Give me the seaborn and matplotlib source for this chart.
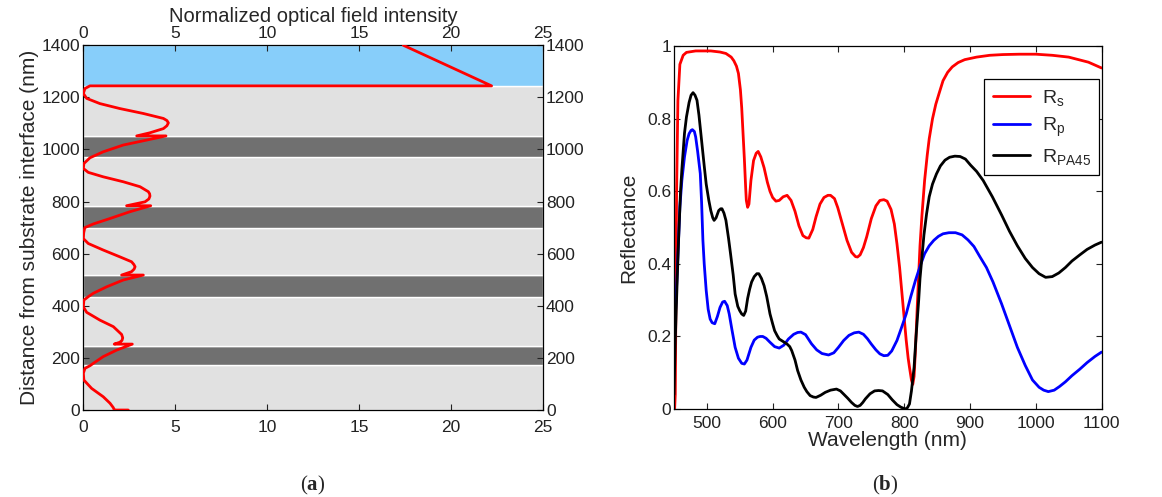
import seaborn as sns
import matplotlib
matplotlib.use('Agg')
import matplotlib.pyplot as plt
import pandas as pd
import numpy as np

# ---- panel (a): layer stack and field intensity ----
layer_bottoms = [0, 173, 247, 435, 518, 700, 784, 972, 1052, 1244]
layer_tops = [173, 247, 435, 518, 700, 784, 972, 1052, 1244, 1400]
layer_kind = ['light', 'dark', 'light', 'dark', 'light', 'dark', 'light', 'dark', 'light', 'air']

field_intensity = [2.46, 1.70, 1.68, 1.65, 1.47, 1.10, 0.47, 0.05, 0.02, 0.11, 0.38, 0.56,
                   1.10, 1.83, 2.68, 1.70, 2.00, 2.12, 2.16, 2.10, 1.65, 0.92, 0.20, 0.02, 0.05,
                   0.29, 0.56, 1.29, 2.19, 3.28, 2.10, 2.64, 2.78, 2.83, 2.76, 2.64, 2.00, 1.10, 0.29,
                   0.02, 0.04, 0.10, 0.56, 1.47, 2.55, 3.68, 2.37, 3.37, 3.58, 3.64, 3.62, 3.55, 3.10,
                   2.19, 1.10, 0.29, 0.02, 0.05, 0.38, 1.10, 2.19, 3.46, 4.51, 2.92, 3.64,
                   4.37, 4.56, 4.64, 4.56, 4.37, 3.28, 2.00, 0.92, 0.20, 0.02, 0.11, 0.38, 22.2, 17.4]
field_depth = [0, 0, 4, 9, 26, 51, 83, 115, 141, 160, 170, 179,
               205, 230, 253, 253, 260, 267, 277, 290, 320, 345, 375, 396, 422,
               435, 448, 473, 499, 518, 518, 531, 541, 550, 559, 569, 588, 614, 639,
               658, 680, 700, 714, 735, 761, 784, 784, 799, 810, 821, 830, 838, 857,
               876, 895, 912, 927, 946, 968, 991, 1017, 1036, 1052, 1052, 1064,
               1080, 1091, 1102, 1111, 1119, 1138, 1157, 1176, 1196, 1215, 1234, 1244, 1244, 1400]
intensity_ticks = [0, 5, 10, 15, 20, 25]

# ---- panel (b): reflectance spectra ----
rs_wl = [451, 452, 453, 454, 456, 459, 464, 469, 483, 506, 520, 529, 537, 541, 545, 548,
         551, 553, 555, 557, 559, 560, 562, 564, 567, 571, 575, 578, 582, 587, 592, 596,
         600, 605, 610, 616, 622, 628, 634, 640, 646, 651, 655, 661, 666, 672, 678, 684,
         688, 694, 699, 706, 713, 720, 726, 729, 733, 738, 743, 750, 757, 763, 769, 774,
         780, 785, 789, 793, 796, 800, 803, 806, 808, 811, 813, 815, 817, 820, 822, 824,
         827, 831, 835, 838, 843, 848, 853, 859, 866, 873, 882, 892, 910, 930, 950, 975,
         1000, 1025, 1050, 1065, 1080, 1090, 1100]
rs_val = [0.0, 0.04, 0.30, 0.60, 0.85, 0.95, 0.975, 0.983, 0.987, 0.987, 0.984, 0.98, 0.97, 0.96, 0.945, 0.925,
          0.88, 0.83, 0.76, 0.69, 0.61, 0.575, 0.556, 0.565, 0.63, 0.685, 0.705, 0.71, 0.695, 0.665, 0.625, 0.60,
          0.583, 0.573, 0.575, 0.585, 0.589, 0.575, 0.545, 0.505, 0.478, 0.472, 0.471, 0.495, 0.53, 0.565, 0.583, 0.589,
          0.589, 0.58, 0.555, 0.51, 0.465, 0.432, 0.42, 0.419, 0.425, 0.445, 0.475, 0.525, 0.56, 0.575, 0.577, 0.573,
          0.55, 0.51, 0.455, 0.39, 0.33, 0.25, 0.19, 0.14, 0.115, 0.08, 0.068, 0.09, 0.16, 0.29, 0.37, 0.45,
          0.535, 0.63, 0.70, 0.745, 0.80, 0.84, 0.87, 0.905, 0.928, 0.943, 0.955, 0.963, 0.97, 0.975, 0.977, 0.978,
          0.978, 0.975, 0.97, 0.963, 0.956, 0.948, 0.94]

rp_wl = [450, 452, 455, 459, 462, 466, 470, 473, 476, 478, 481, 483, 486, 490, 492, 494,
         496, 499, 502, 505, 508, 512, 516, 520, 524, 527, 531, 534, 538, 543, 548, 553,
         557, 561, 567, 572, 577, 581, 585, 590, 596, 603, 610, 617, 624, 632, 638, 643,
         650, 659, 667, 675, 685, 693, 700, 708, 716, 724, 731, 738, 744, 750, 757, 763,
         769, 775, 781, 789, 796, 803, 810, 817, 824, 831, 838, 845, 852, 859, 868, 878,
         888, 897, 906, 915, 925, 935, 948, 960, 972, 984, 995, 1005, 1012, 1019, 1028, 1036,
         1045, 1055, 1067, 1078, 1090, 1100]
rp_val = [0.143, 0.25, 0.38, 0.557, 0.63, 0.695, 0.74, 0.759, 0.768, 0.77, 0.765, 0.75, 0.71, 0.649, 0.57, 0.465,
          0.40, 0.327, 0.275, 0.248, 0.238, 0.235, 0.255, 0.28, 0.295, 0.297, 0.285, 0.262, 0.22, 0.17, 0.14, 0.126,
          0.124, 0.135, 0.17, 0.19, 0.198, 0.20, 0.20, 0.195, 0.184, 0.172, 0.168, 0.176, 0.193, 0.206, 0.211, 0.212,
          0.205, 0.18, 0.163, 0.153, 0.149, 0.155, 0.17, 0.189, 0.203, 0.21, 0.212, 0.206, 0.194, 0.179, 0.163, 0.152,
          0.147, 0.148, 0.16, 0.189, 0.225, 0.262, 0.31, 0.354, 0.393, 0.428, 0.45, 0.465, 0.476, 0.483, 0.486, 0.486,
          0.48, 0.466, 0.448, 0.42, 0.39, 0.35, 0.29, 0.23, 0.17, 0.12, 0.08, 0.06, 0.052, 0.048, 0.052, 0.062,
          0.075, 0.092, 0.11, 0.128, 0.145, 0.157]

rpa_wl = [450, 452, 455, 457, 460, 462, 466, 469, 473, 476, 479, 482, 485, 488, 492, 496,
          499, 503, 506, 509, 511, 514, 518, 521, 523, 526, 529, 533, 536, 540, 543, 547,
          550, 553, 556, 559, 562, 565, 568, 572, 576, 579, 583, 587, 591, 596, 600, 603,
          607, 610, 616, 622, 626, 629, 634, 638, 643, 648, 652, 657, 662, 666, 673, 680,
          688, 697, 703, 708, 714, 720, 725, 729, 733, 737, 741, 748, 755, 761, 767, 775,
          782, 789, 795, 802, 805, 808, 811, 815, 818, 822, 824, 827, 830, 834, 838, 843,
          849, 855, 862, 869, 877, 885, 893, 901, 910, 920, 934, 948, 960, 972, 984, 995,
          1005, 1015, 1025, 1035, 1045, 1055, 1067, 1078, 1090, 1100]
rpa_val = [0.04, 0.19, 0.36, 0.465, 0.60, 0.66, 0.76, 0.805, 0.845, 0.865, 0.872, 0.865, 0.851, 0.81, 0.74, 0.67,
           0.62, 0.575, 0.547, 0.527, 0.52, 0.527, 0.547, 0.552, 0.552, 0.54, 0.52, 0.47, 0.428, 0.37, 0.317, 0.283,
           0.271, 0.262, 0.258, 0.27, 0.305, 0.33, 0.35, 0.365, 0.373, 0.373, 0.36, 0.34, 0.31, 0.262, 0.235, 0.216,
           0.202, 0.193, 0.186, 0.179, 0.172, 0.161, 0.135, 0.106, 0.08, 0.06, 0.048, 0.037, 0.033, 0.032, 0.038, 0.046,
           0.052, 0.055, 0.05, 0.041, 0.03, 0.018, 0.01, 0.007, 0.01, 0.018, 0.028, 0.042, 0.05, 0.051, 0.05, 0.04,
           0.025, 0.012, 0.005, 0.0, 0.004, 0.014, 0.05, 0.115, 0.20, 0.30, 0.36, 0.42, 0.48, 0.538, 0.585, 0.62,
           0.648, 0.67, 0.686, 0.694, 0.697, 0.696, 0.689, 0.672, 0.655, 0.63, 0.585, 0.535, 0.49, 0.45, 0.415, 0.39,
           0.373, 0.363, 0.365, 0.375, 0.39, 0.408, 0.425, 0.44, 0.452, 0.46]

series_names = [r'$\mathregular{R_s}$', r'$\mathregular{R_p}$', r'$\mathregular{R_{PA45}}$']
series_colors = ['#ff0000', '#0000ff', '#000000']

sns.set_style('ticks')
plt.rcParams['font.family'] = ['Liberation Sans', 'DejaVu Sans']
plt.rcParams['mathtext.fontset'] = 'custom'
plt.rcParams['mathtext.rm'] = 'Liberation Sans'
plt.rcParams['mathtext.bf'] = 'Liberation Serif:bold'
plt.rcParams['axes.edgecolor'] = 'black'
plt.rcParams['axes.linewidth'] = 0.9
plt.rcParams['xtick.direction'] = 'in'
plt.rcParams['ytick.direction'] = 'in'
plt.rcParams['xtick.color'] = '#222222'
plt.rcParams['ytick.color'] = '#222222'

fig = plt.figure(figsize=(11.62, 4.97), dpi=100)
ax1 = fig.add_axes([0.0714, 0.175, 0.396, 0.734])
ax2 = fig.add_axes([0.580, 0.177, 0.368, 0.730])

# layers
fill = {'light': '#e1e1e1', 'dark': '#707070', 'air': '#87cefa'}
for lo, hi, kind in zip(layer_bottoms, layer_tops, layer_kind):
    ax1.axhspan(lo, hi, facecolor=fill[kind], edgecolor='white', linewidth=1.0, zorder=0)

sns.lineplot(x=field_intensity, y=field_depth, sort=False, estimator=None,
             color='#ff0000', linewidth=2.0, ax=ax1, zorder=3)
ax1.set_xlim(0, 25)
ax1.set_ylim(0, 1400)
ax1.set_xticks(intensity_ticks)
ax1.set_yticks(range(0, 1401, 200))
ax1.tick_params(top=True, right=True, labelright=True,
                labelsize=12.5, length=4, width=0.8, pad=2)
ax1.tick_params(axis='x', pad=7)

# top axis carries its own labels so its padding is independent of the bottom one
top = ax1.secondary_xaxis('top')
top.set_xticks(intensity_ticks)
top.tick_params(labelsize=12.5, length=0, pad=3)
top.spines['top'].set_visible(False)
top.set_xlabel('Normalized optical field intensity', fontsize=14.5, labelpad=3)
ax1.set_ylabel('Distance from substrate interface (nm)', fontsize=15, labelpad=2)

# spectra
df = pd.concat([
    pd.DataFrame({'wavelength': rs_wl, 'R': rs_val, 'series': series_names[0]}),
    pd.DataFrame({'wavelength': rp_wl, 'R': rp_val, 'series': series_names[1]}),
    pd.DataFrame({'wavelength': rpa_wl, 'R': rpa_val, 'series': series_names[2]}),
])
sns.lineplot(data=df, x='wavelength', y='R', hue='series', hue_order=series_names,
             palette=dict(zip(series_names, series_colors)), estimator=None,
             linewidth=2.0, ax=ax2)
ax2.set_xlim(450, 1100)
ax2.set_ylim(0, 1)
ax2.set_xticks(range(500, 1101, 100))
ax2.set_yticks([0, 0.2, 0.4, 0.6, 0.8, 1])
ax2.set_yticklabels(['0', '0.2', '0.4', '0.6', '0.8', '1'])
ax2.tick_params(top=True, right=True, labelsize=12.5, length=4, width=0.8, pad=2)
ax2.tick_params(axis='x', pad=5)
ax2.set_xlabel('Wavelength (nm)', fontsize=15, labelpad=0)
ax2.set_ylabel('Reflectance', fontsize=15, labelpad=6)
leg = ax2.legend(loc='upper right', bbox_to_anchor=(0.995, 0.909), borderaxespad=0,
                 fontsize=14, frameon=True, fancybox=False, framealpha=1, edgecolor='black',
                 handlelength=1.9, borderpad=0.45, labelspacing=0.4, handletextpad=0.6)
leg.get_frame().set_linewidth(0.9)

fig.text(313 / 1162, 0.024, r'($\mathbf{a}$)', fontsize=15, ha='center', va='center',
         family='Liberation Serif')
fig.text(885 / 1162, 0.024, r'($\mathbf{b}$)', fontsize=15, ha='center', va='center',
         family='Liberation Serif')

fig.savefig('out.png', dpi=100)
